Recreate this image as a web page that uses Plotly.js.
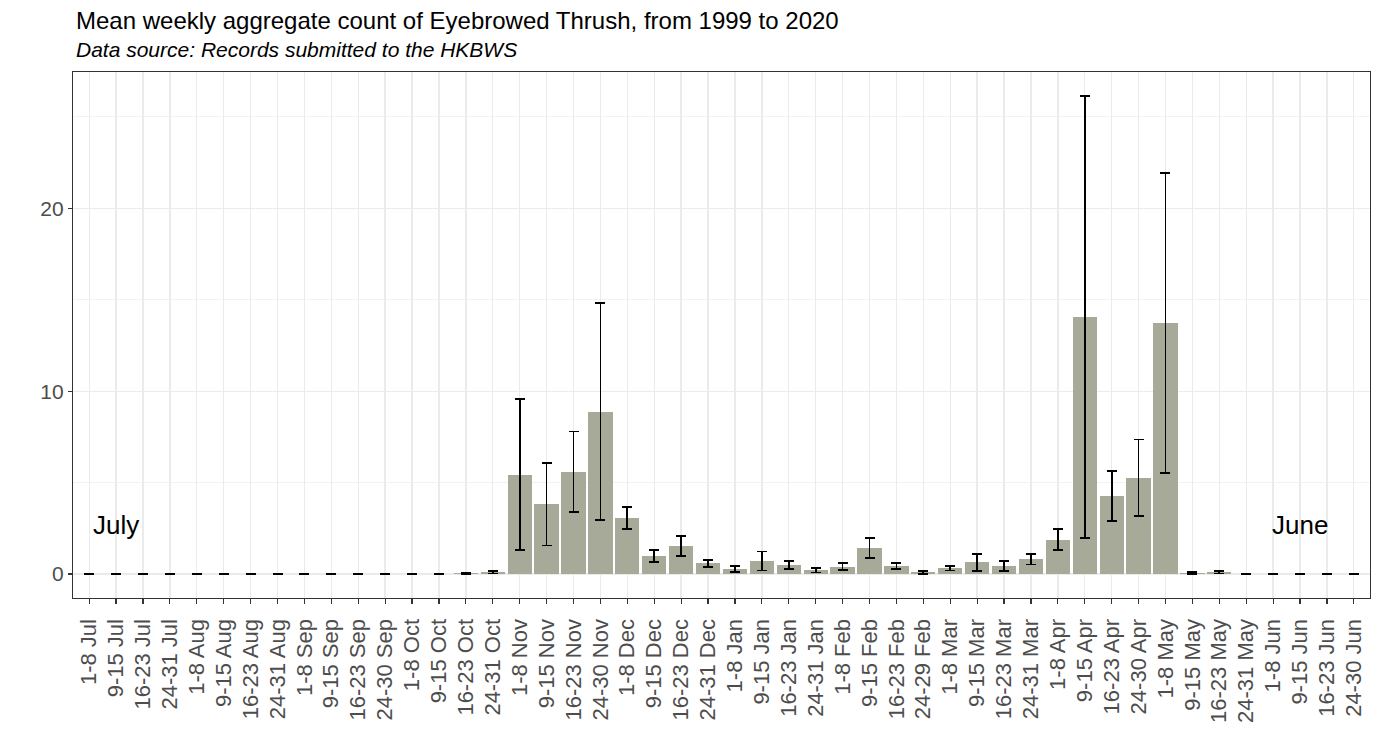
<!DOCTYPE html>
<html>
<head>
<meta charset="utf-8">
<script src="https://cdn.plot.ly/plotly-3.0.1.min.js"></script>
<style>html,body{margin:0;padding:0;background:#fff;}#chart{width:1380px;height:751px;}</style>
</head>
<body>
<div id="chart"></div>
<script>
const weeks = [
  "1-8 Jul","9-15 Jul","16-23 Jul","24-31 Jul",
  "1-8 Aug","9-15 Aug","16-23 Aug","24-31 Aug",
  "1-8 Sep","9-15 Sep","16-23 Sep","24-30 Sep",
  "1-8 Oct","9-15 Oct","16-23 Oct","24-31 Oct",
  "1-8 Nov","9-15 Nov","16-23 Nov","24-30 Nov",
  "1-8 Dec","9-15 Dec","16-23 Dec","24-31 Dec",
  "1-8 Jan","9-15 Jan","16-23 Jan","24-31 Jan",
  "1-8 Feb","9-15 Feb","16-23 Feb","24-29 Feb",
  "1-8 Mar","9-15 Mar","16-23 Mar","24-31 Mar",
  "1-8 Apr","9-15 Apr","16-23 Apr","24-30 Apr",
  "1-8 May","9-15 May","16-23 May","24-31 May",
  "1-8 Jun","9-15 Jun","16-23 Jun","24-30 Jun"
];
const meanCount = [
  0,0,0,0,
  0,0,0,0,
  0,0,0,0,
  0,0,0.04,0.10,
  5.44,3.81,5.59,8.88,
  3.05,0.99,1.53,0.58,
  0.27,0.72,0.49,0.21,
  0.41,1.41,0.45,0.09,
  0.32,0.64,0.44,0.82,
  1.89,14.05,4.27,5.27,
  13.73,0.05,0.09,0,
  0,0,0,0
];
const errCount = [
  0,0,0,0,
  0,0,0,0,
  0,0,0,0,
  0,0,0.05,0.07,
  4.14,2.25,2.21,5.94,
  0.60,0.32,0.545,0.18,
  0.16,0.52,0.21,0.12,
  0.20,0.55,0.15,0.07,
  0.12,0.475,0.275,0.30,
  0.58,12.09,1.38,2.09,
  8.22,0.06,0.06,0,
  0,0,0,0
];
const titleText = "Mean weekly aggregate count of Eyebrowed Thrush, from 1999 to 2020";
const subtitleText = "Data source: Records submitted to the HKBWS";
const yTicks = [0,10,20];

const font = "Liberation Sans, Arial, sans-serif";
const W = 1380, H = 751, L = 73, R = 10, T = 72, B = 153;
const PW = W - L - R, PH = H - T - B;
const px = v => (v - L) / PW;
const py = v => 1 - (v - T) / PH;

const trace = {
  type: "bar",
  x: weeks,
  y: meanCount,
  width: 0.9,
  marker: {color: "#a7a999", line: {width: 0}},
  error_y: {type: "data", array: errCount, visible: true, color: "#000000", thickness: 1.8, width: 5},
  hoverinfo: "x+y"
};

const layout = {
  width: W, height: H,
  margin: {l: L, r: R, t: T, b: B},
  paper_bgcolor: "#ffffff", plot_bgcolor: "#ffffff",
  showlegend: false,
  bargap: 0,
  font: {family: font, color: "#000"},
  xaxis: {
    type: "category",
    range: [-0.6, 47.6],
    tickangle: -90,
    tickfont: {family: font, size: 22, color: "#4d4d4d"},
    ticks: "outside", ticklen: 5, tickcolor: "#333333", tickwidth: 1.2,
    ticklabelstandoff: 6,
    showgrid: true, gridcolor: "#ebebeb", gridwidth: 1.3,
    showline: true, linecolor: "#333333", linewidth: 1.2, mirror: true,
    zeroline: false, automargin: false
  },
  yaxis: {
    range: [-1.307, 27.45],
    tickvals: yTicks,
    ticktext: yTicks.map(String),
    tickfont: {family: font, size: 21, color: "#4d4d4d"},
    ticks: "outside", ticklen: 4, tickcolor: "#333333", tickwidth: 1.2,
    showgrid: true, gridcolor: "#ebebeb", gridwidth: 1.3,
    minor: {dtick: 5, tick0: 0, showgrid: true, gridcolor: "#f2f2f2", gridwidth: 1, ticks: ""},
    showline: true, linecolor: "#333333", linewidth: 1.2, mirror: true,
    zeroline: false, automargin: false
  },
  annotations: [
    {xref: "paper", yref: "paper", x: px(74), y: py(20), text: titleText, showarrow: false,
     xanchor: "left", yanchor: "middle", font: {family: font, size: 24, color: "#000"}},
    {xref: "paper", yref: "paper", x: px(74), y: py(50), text: "<i>" + subtitleText + "</i>", showarrow: false,
     xanchor: "left", yanchor: "middle", font: {family: font, size: 21, color: "#000"}},
    {xref: "x", yref: "y", x: "9-15 Jul", y: 2.7, text: "July", showarrow: false,
     xanchor: "center", yanchor: "middle", font: {family: font, size: 26, color: "#000"}},
    {xref: "x", yref: "y", x: "9-15 Jun", y: 2.7, text: "June", showarrow: false,
     xanchor: "center", yanchor: "middle", font: {family: font, size: 26, color: "#000"}}
  ]
};

Plotly.newPlot("chart", [trace], layout, {displayModeBar: false, staticPlot: true});
</script>
</body>
</html>
